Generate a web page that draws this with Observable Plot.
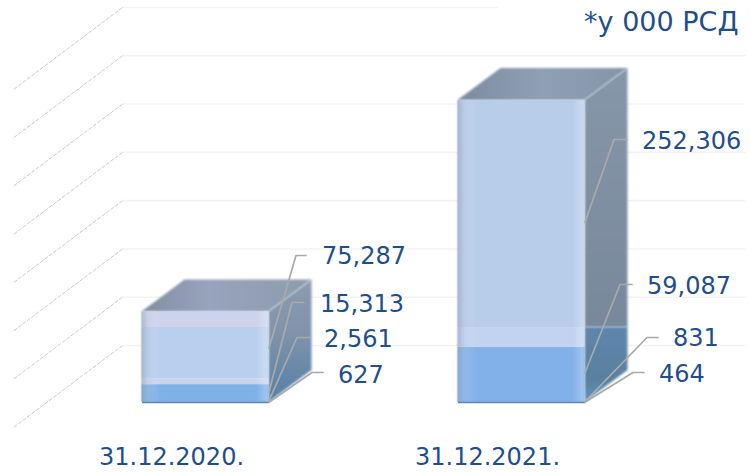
<!DOCTYPE html>
<html>
<head>
<meta charset="utf-8">
<script src="https://cdn.jsdelivr.net/npm/d3@7"></script>
<script src="https://cdn.jsdelivr.net/npm/@observablehq/plot@0.6"></script>
<style>
  html, body { margin: 0; background: #fff; }
  .soft { filter: blur(1px); }
  .grain { filter: blur(0.4px); }
</style>
</head>
<body>
<div id="chart"></div>
<script>
// Balances per reporting date, stacked bottom to top
const dates = ["31.12.2020.", "31.12.2021."];
const layers2020 = [627, 2561, 15313, 75287];
const layers2021 = [464, 831, 59087, 252306];
const unitNote = "*у 000 РСД";
const gridTicks = [0, 50000, 100000, 150000, 200000, 250000, 300000, 350000];

// Scale setup: one x unit separates the two dates
const W = 751, H = 472;
const pxX = 1 / 316, pxY = 350000 / 338;
const halfBar = 63.5 * pxX;
const depthX = 43 * pxX, depthY = 32 * pxY;
const wallLift = 57 * pxY, wallDrop = 25 * pxY;
const wallBack = -83 * pxX, wallFront = -192 * pxX, wallRight = 540 * pxX;
const washLevel = 77640;

// Leader geometry per layer: run, rise, tail, label offset, label rise (screen px)
const leaders = [
  [[43, 30, 11, 69, 27], [28, 65, 13, 55, 63], [23, 100, 12, 51, 98], [27, 147, 10, 53, 146]],
  [[48, 30, 11, 74, 28], [62, 65, 11, 88, 64], [35, 118, 12, 62, 116], [29, 263, 13, 57, 261]]
];

const stacks = [layers2020, layers2021].map((values, slot) => {
  const tops = Array.from(d3.cumsum(values));
  return values.map((value, i) => ({
    slot, value, i,
    y1: i ? tops[i - 1] : 0,
    y2: tops[i],
    mid: (i ? tops[i - 1] : 0) + value / 2,
    right: slot + halfBar
  }));
});
const bars = stacks.map((s, slot) => ({
  slot, left: slot - halfBar, right: slot + halfBar, total: s[s.length - 1].y2
}));

// Filled parallelograms for the receding faces
const sidePts = bars.flatMap(b => [
  {slot: b.slot, x: b.right, y1: 0, y2: b.total},
  {slot: b.slot, x: b.right + depthX, y1: depthY, y2: b.total + depthY}
]);
const lowSide = [
  {x: bars[1].right, y1: 0, y2: washLevel},
  {x: bars[1].right + depthX, y1: depthY, y2: washLevel}
];
const topPts = bars.flatMap(b => [
  {slot: b.slot, y: b.total, x1: b.left, x2: b.right},
  {slot: b.slot, y: b.total + depthY, x1: b.left + depthX, x2: b.right + depthX}
]);

// Front face colour bands
const bands = [
  {slot: 0, y1: 0, y2: stacks[0][2].y2, fill: "#7fb1e7"},
  {slot: 0, y1: stacks[0][2].y2, y2: stacks[0][2].y2 + 6 * pxY, fill: "#c9d5ea"},
  {slot: 0, y1: stacks[0][2].y2 + 6 * pxY, y2: washLevel, fill: "#b9cfee"},
  {slot: 0, y1: washLevel, y2: bars[0].total, fill: "#ccd4ec"},
  {slot: 1, y1: 0, y2: stacks[1][2].y2 - 3000, fill: "#82b0e9"},
  {slot: 1, y1: stacks[1][2].y2 - 3000, y2: washLevel, fill: "#c2d3f0"},
  {slot: 1, y1: washLevel, y2: bars[1].total, fill: "#b8cdea"}
].map(d => ({...d, x1: d.slot - halfBar, x2: d.slot + halfBar}));

// Leader polylines and their labels, built from the stacked layers
const leaderPts = stacks.flatMap((s, slot) => s.flatMap((seg, i) => {
  const [run, rise, tail] = leaders[slot][i];
  return [
    {key: `${slot}-${i}`, x: seg.right, y: seg.mid},
    {key: `${slot}-${i}`, x: seg.right + run * pxX, y: rise * pxY},
    {key: `${slot}-${i}`, x: seg.right + (run + tail) * pxX, y: rise * pxY}
  ];
}));
const labels = stacks.flatMap((s, slot) => s.map((seg, i) => ({
  x: seg.right + leaders[slot][i][3] * pxX,
  y: leaders[slot][i][4] * pxY,
  text: d3.format(",")(seg.value)
})));

const gradients = () => {
  const svg = d3.create("svg:g");
  const defs = svg.append("defs");
  const linear = (id, dir, stops) => {
    const g = defs.append("linearGradient").attr("id", id)
      .attr("x1", 0).attr("y1", 0)
      .attr("x2", dir === "h" ? 1 : 0).attr("y2", dir === "h" ? 0 : 1);
    stops.forEach(([o, c, a]) => g.append("stop").attr("offset", o).attr("stop-color", c).attr("stop-opacity", a ?? 1));
  };
  linear("sideA", "v", [[0, "#8c9bb0"], [0.45, "#7f93ab"], [1, "#547fa8"]]);
  linear("sideB", "v", [[0, "#8797aa"], [0.7, "#7d8d9f"], [1, "#78899c"]]);
  linear("sideC", "v", [[0, "#5f85ad"], [0.7, "#59819f"], [1, "#5f93c4"]]);
  linear("topA", "h", [[0, "#818ea2"], [0.4, "#98a3bd"], [1, "#8c9cae"]]);
  linear("topB", "h", [[0, "#7b8b9f"], [0.5, "#8fa0b5"], [1, "#8495a8"]]);
  linear("edges", "h", [[0, "#8e9aa8", 0.6], [0.05, "#b6c6dc", 0.25], [0.15, "#ffffff", 0], [0.9, "#ffffff", 0], [1, "#ffffff", 0.3]]);
  return svg.node();
};

const chart = Plot.plot({
  width: W,
  height: H,
  margin: 0,
  x: {type: "linear", domain: [0, 1], range: [205, 521], axis: null},
  y: {type: "linear", domain: [0, 350000], range: [402, 64], axis: null},
  marks: [
    gradients,
    // Floor-to-wall grid: faint horizontal rules and dashed receding lines
    Plot.link(gridTicks, {
      x1: wallBack, x2: (d, i) => i === gridTicks.length - 1 ? 292 * pxX : wallRight,
      y1: d => d + wallLift, y2: d => d + wallLift,
      stroke: "#f3f3f3", strokeWidth: 1.6, className: "grain"
    }),
    Plot.link(gridTicks, {
      x1: wallBack, x2: wallFront,
      y1: d => d + wallLift, y2: d => d - wallDrop,
      stroke: "#bdbdbd", strokeWidth: 0.8, strokeDasharray: "4 1.5", className: "grain"
    }),
    // Receding side faces
    Plot.areaY(sidePts.filter(d => d.slot === 0), {
      x: "x", y1: "y1", y2: "y2", fill: "url(#sideA)", className: "soft"
    }),
    Plot.areaY(sidePts.filter(d => d.slot === 1), {
      x: "x", y1: d => Math.max(d.y1, washLevel), y2: "y2", fill: "url(#sideB)", className: "soft"
    }),
    Plot.areaY(lowSide, {
      x: "x", y1: "y1", y2: "y2", fill: "url(#sideC)", className: "soft"
    }),
    // Top faces
    Plot.areaX(topPts.filter(d => d.slot === 0), {
      y: "y", x1: "x1", x2: "x2", fill: "url(#topA)", className: "soft"
    }),
    Plot.areaX(topPts.filter(d => d.slot === 1), {
      y: "y", x1: "x1", x2: "x2", fill: "url(#topB)", className: "soft"
    }),
    // Front faces
    Plot.rect(bands, {
      x1: "x1", x2: "x2", y1: "y1", y2: "y2", fill: "fill", className: "grain"
    }),
    Plot.rect(bars, {
      x1: "left", x2: "right", y1: 0, y2: "total", fill: "url(#edges)", className: "soft"
    }),
    Plot.link(bars, {
      x1: "left", x2: "right", y1: 0, y2: 0, stroke: "#5f87a8", strokeWidth: 1.5
    }),
    // Leaders and value labels
    Plot.line(leaderPts, {
      x: "x", y: "y", z: "key", curve: "linear",
      stroke: "#a9a9a9", strokeWidth: 1.7
    }),
    Plot.text(labels, {
      x: "x", y: "y", text: "text", textAnchor: "start",
      fill: "#1f4e8c", fontSize: 24, fontFamily: "DejaVu Sans"
    }),
    Plot.text(dates, {
      x: (d, i) => i - 34 * pxX,
      y: -55 * pxY,
      text: d => d,
      fill: "#1f4e8c", fontSize: 24, fontFamily: "DejaVu Sans"
    }),
    Plot.text([unitNote], {
      frameAnchor: "top-right", dx: -13, dy: 11, lineAnchor: "top",
      text: d => d,
      fill: "#1f4e8c", fontSize: 27, fontFamily: "DejaVu Sans"
    })
  ]
});
document.getElementById("chart").append(chart);
</script>
</body>
</html>
